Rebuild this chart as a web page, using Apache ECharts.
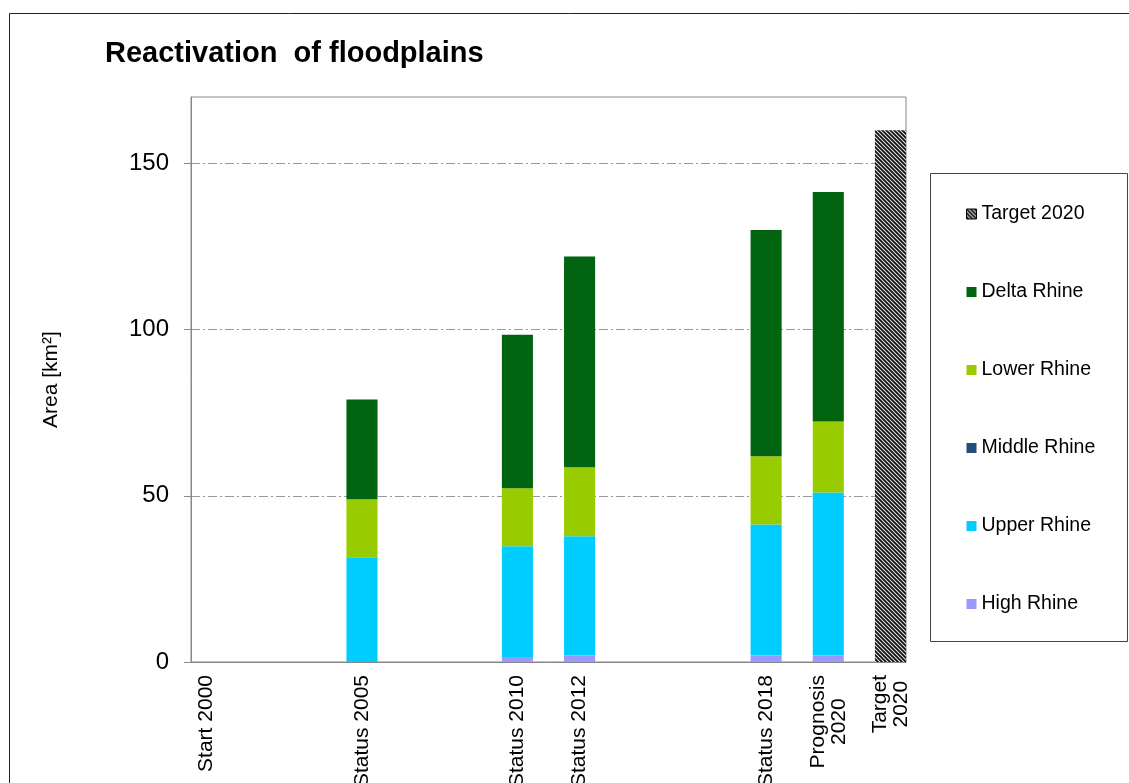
<!DOCTYPE html>
<html>
<head>
<meta charset="utf-8">
<script src="https://cdn.jsdelivr.net/npm/echarts@6/dist/echarts.min.js"></script>
<style>
  html, body { margin: 0; padding: 0; background: #fff; }
  #chart { width: 1129px; height: 783px; }
</style>
</head>
<body>
<div id="chart"></div>
<script>
  // one slot per year 2000..2022, labels only where there is a status
  var categories = ['Start 2000', '', '', '', '', 'Status 2005', '', '', '', '', 'Status 2010', '', 'Status 2012',
    '', '', '', '', '', 'Status 2018', '', 'Prognosis\n2020', '', 'Target\n2020']
  var _ = null
  var highRhine   = [0, _, _, _, _, 0,    _, _, _, _, 1.5,  _, 2,    _, _, _, _, _, 2,    _, 2,    _, _]
  var upperRhine  = [0, _, _, _, _, 31.5, _, _, _, _, 33.3, _, 35.8, _, _, _, _, _, 39.4, _, 49,   _, _]
  var middleRhine = [0, _, _, _, _, 0,    _, _, _, _, 0,    _, 0,    _, _, _, _, _, 0,    _, 0,    _, _]
  var lowerRhine  = [0, _, _, _, _, 17.5, _, _, _, _, 17.5, _, 20.8, _, _, _, _, _, 20.5, _, 21.4, _, _]
  var deltaRhine  = [0, _, _, _, _, 30,   _, _, _, _, 46.2, _, 63.4, _, _, _, _, _, 68.1, _, 69,   _, _]
  var target2020  = [_, _, _, _, _, _,    _, _, _, _, _,    _, _,    _, _, _, _, _, _,    _, _,    _, 160]
  var yTicks = [0, 50, 100, 150]

  var font = 'Liberation Sans, Arial, sans-serif'

  // hatch for the target bar
  var hatch = document.createElement('canvas')
  hatch.width = 4
  hatch.height = 4
  var hc = hatch.getContext('2d')
  hc.fillStyle = '#e8e8e8'
  hc.fillRect(0, 0, 4, 4)
  hc.strokeStyle = '#111'
  hc.lineWidth = 1.8
  hc.beginPath()
  hc.moveTo(-1, -1); hc.lineTo(5, 5)
  hc.moveTo(-1, 3); hc.lineTo(1, 5)
  hc.moveTo(3, -1); hc.lineTo(5, 1)
  hc.stroke()

  var chart = echarts.init(document.getElementById('chart'))

  function bar(name, data, color) {
    return {
      name: name,
      type: 'bar',
      stack: 'area',
      barCategoryGap: '0%',
      itemStyle: { color: color },
      emphasis: { disabled: true },
      data: data
    }
  }

  chart.setOption({
    animation: false,
    backgroundColor: '#fff',
    title: {
      text: 'Reactivation  of floodplains',
      left: 100,
      top: 34,
      textStyle: { fontFamily: font, fontSize: 29, fontWeight: 'bold', color: '#000' }
    },
    graphic: [
      {
        type: 'rect',
        shape: { x: 9.5, y: 13.5, width: 1300, height: 900 },
        style: { fill: 'none', stroke: '#222', lineWidth: 1 },
        silent: true
      },
      {
        type: 'rect',
        shape: { x: 930.5, y: 173.5, width: 197, height: 468 },
        style: { fill: '#fff', stroke: '#444', lineWidth: 1 },
        silent: true,
        z: 0
      }
    ],
    legend: {
      orient: 'vertical',
      left: 961,
      top: 199,
      itemWidth: 10,
      itemHeight: 10,
      itemGap: 58,
      icon: 'rect',
      data: [
        { name: 'Target 2020', itemStyle: { borderColor: '#000', borderWidth: 1 } },
        'Delta Rhine', 'Lower Rhine', 'Middle Rhine', 'Upper Rhine', 'High Rhine'
      ],
      textStyle: { fontFamily: font, fontSize: 19.5, color: '#000' },
      z: 5
    },
    grid: {
      left: 191,
      top: 97,
      right: 223,
      bottom: 121,
      outerBoundsMode: 'none',
      containLabel: false,
      show: true,
      borderColor: '#888',
      borderWidth: 1
    },
    xAxis: {
      type: 'category',
      data: categories,
      axisLine: { lineStyle: { color: '#888' } },
      axisTick: { show: false },
      axisLabel: {
        interval: 0,
        rotate: 90,
        margin: 13,
        fontFamily: font,
        fontSize: 21,
        color: '#000',
        lineHeight: 21,
        formatter: function (v) {
          if (!v) return ''
          return v.split('\n').map(function (s) { return '{c|' + s + '}' }).join('\n')
        },
        rich: {
          c: { align: 'center', fontFamily: font, fontSize: 21, color: '#000', lineHeight: 21 }
        }
      }
    },
    yAxis: {
      type: 'value',
      min: yTicks[0],
      max: 170,
      interval: 50,
      name: 'Area [km²]',
      nameLocation: 'middle',
      nameGap: 129,
      nameTextStyle: { fontFamily: font, fontSize: 21, color: '#000' },
      axisLine: { show: true, lineStyle: { color: '#888' } },
      axisTick: { show: true, length: 7, lineStyle: { color: '#888' } },
      axisLabel: {
        margin: 22,
        fontFamily: font,
        fontSize: 24,
        color: '#000',
        showMaxLabel: false
      },
      splitLine: {
        show: true,
        showMinLine: false,
        showMaxLine: false,
        lineStyle: { color: '#999', type: [9, 3, 2, 3], width: 1 }
      }
    },
    series: [
      bar('High Rhine', highRhine, '#9999ff'),
      bar('Upper Rhine', upperRhine, '#00ccff'),
      bar('Middle Rhine', middleRhine, '#1f4e79'),
      bar('Lower Rhine', lowerRhine, '#99cc00'),
      bar('Delta Rhine', deltaRhine, '#006411'),
      bar('Target 2020', target2020, { image: hatch, repeat: 'repeat' })
    ]
  })
</script>
</body>
</html>
